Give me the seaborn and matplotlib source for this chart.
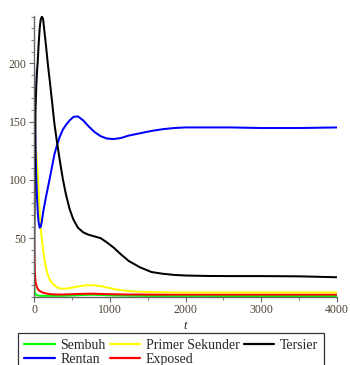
import matplotlib
matplotlib.use("Agg")
import matplotlib.pyplot as plt
import numpy as np
import pandas as pd
import seaborn as sns
from matplotlib.ticker import MultipleLocator, FixedLocator
from matplotlib.lines import Line2D

# Time points of the simulation output
t = [0, 10, 20, 30, 40, 50, 60, 75, 90, 105, 120, 140, 160, 185, 210, 240,
     270, 300, 340, 380, 420, 470, 520, 580, 650, 720, 800, 880, 960, 1050,
     1150, 1250, 1400, 1550, 1700, 1850, 2000, 2300, 2600, 3000, 3500, 4000]

# Compartment sizes
rentan = [200, 165, 128, 102, 85, 72, 64, 59, 60, 65, 72, 79, 86, 94, 102, 112,
          122, 129, 137, 143, 147, 151, 154, 154.5, 151, 146, 141, 137.5, 135.5, 135,
          136, 138, 140, 142, 143.5, 144.5, 145, 145, 145, 144.5, 144.5, 145]
tersier = [10, 100, 160, 180, 193, 202, 215, 230, 238, 240, 238, 226, 214, 198, 184, 166,
           148, 134, 117, 101, 88, 75, 66, 59, 55, 53, 51.5, 50, 46.5, 42,
           36, 30.5, 25, 21, 19.5, 18.5, 18, 17.6, 17.5, 17.5, 17.3, 16.5]
primer_sekunder = [128, 133, 130, 124, 115, 104, 90, 72, 58, 48, 40, 31, 24, 18, 14, 11.5,
                   9.5, 8, 7, 6.6, 6.7, 7.2, 7.8, 8.6, 9.3, 9.7, 9.6, 8.9, 7.8, 6.5,
                   5.4, 4.7, 4.1, 3.8, 3.6, 3.5, 3.5, 3.5, 3.5, 3.5, 3.5, 3.5]
exposed = [52, 22, 13, 9.5, 7.8, 6.5, 5.6, 4.8, 4.2, 3.7, 3.3, 2.9, 2.6, 2.3, 2.1, 1.9,
           1.8, 1.7, 1.7, 1.7, 1.8, 1.9, 2.0, 2.2, 2.3, 2.4, 2.4, 2.2, 2.0, 1.9,
           1.8, 1.7, 1.7, 1.6, 1.6, 1.6, 1.6, 1.6, 1.6, 1.6, 1.6, 1.6]
sembuh = [12, 4, 2, 1.4, 1.1, 0.9, 0.8, 0.7, 0.6, 0.6, 0.6, 0.6, 0.6, 0.6, 0.6, 0.6,
          0.6, 0.6, 0.6, 0.6, 0.7, 0.8, 0.9, 1.1, 1.3, 1.5, 1.5, 1.3, 1.1, 0.9,
          0.8, 0.7, 0.6, 0.5, 0.5, 0.5, 0.5, 0.5, 0.4, 0.4, 0.4, 0.4]

series_names = ["Sembuh", "Primer Sekunder", "Tersier", "Rentan", "Exposed"]
colors = {"Sembuh": "#00ff00", "Primer Sekunder": "#ffff00", "Tersier": "#000000",
          "Rentan": "#0000ff", "Exposed": "#ff0000"}

wide = pd.DataFrame({"t": t, "Sembuh": sembuh, "Primer Sekunder": primer_sekunder,
                     "Tersier": tersier, "Rentan": rentan, "Exposed": exposed})
long = wide.melt(id_vars="t", var_name="series", value_name="value")

sns.set_style("white")
plt.rcParams["font.family"] = ["Liberation Serif", "DejaVu Serif"]

fig = plt.figure(figsize=(3.5, 3.65), dpi=100)
ax = fig.add_axes([34 / 350, 68.5 / 365, 303 / 350, 281 / 365])

draw_order = ["Sembuh", "Exposed", "Primer Sekunder", "Rentan", "Tersier"]
sns.lineplot(data=long, x="t", y="value", hue="series", hue_order=draw_order,
             palette=colors, estimator=None, sort=True, lw=1.45, legend=False,
             ax=ax)

ax.set_xlim(0, 4000)
ax.set_ylim(0, 241)

ax.xaxis.set_major_locator(FixedLocator([0, 1000, 2000, 3000, 4000]))
ax.xaxis.set_minor_locator(MultipleLocator(500))
ax.yaxis.set_major_locator(FixedLocator([50, 100, 150, 200]))
ax.yaxis.set_minor_locator(MultipleLocator(10))

tick_color = "#4e4332"
ax.tick_params(axis="both", which="major", direction="out", length=3.5,
               width=0.8, color="#666666", labelsize=8.5, labelcolor=tick_color, pad=2)
ax.tick_params(axis="both", which="minor", direction="out", length=2,
               width=0.6, color="#666666")
ax.tick_params(axis="y", which="both", left=True)
ax.tick_params(axis="x", which="both", bottom=True)

for side in ["top", "right"]:
    ax.spines[side].set_visible(False)
for side in ["left", "bottom"]:
    ax.spines[side].set_color("#666666")
    ax.spines[side].set_linewidth(1.0)

ax.set_xlabel("t", fontstyle="italic", fontsize=9, labelpad=3)
ax.set_ylabel("")

handles = [Line2D([0], [0], color=colors[n], lw=1.6) for n in series_names]
# column-wise fill so the rows read Sembuh/Primer Sekunder/Tersier, then Rentan/Exposed
order = [0, 3, 1, 4, 2]
leg = fig.legend([handles[i] for i in order], [series_names[i] for i in order],
                 loc="upper left", bbox_to_anchor=(18 / 350, 1 - 333 / 365),
                 ncol=3, frameon=True, fancybox=False, edgecolor="black",
                 fontsize=10, handlelength=2.2, handletextpad=0.4,
                 columnspacing=0.3, borderpad=0.45, labelspacing=0.05,
                 borderaxespad=0)
leg.get_frame().set_linewidth(0.9)

fig.savefig("out.png", dpi=100)
